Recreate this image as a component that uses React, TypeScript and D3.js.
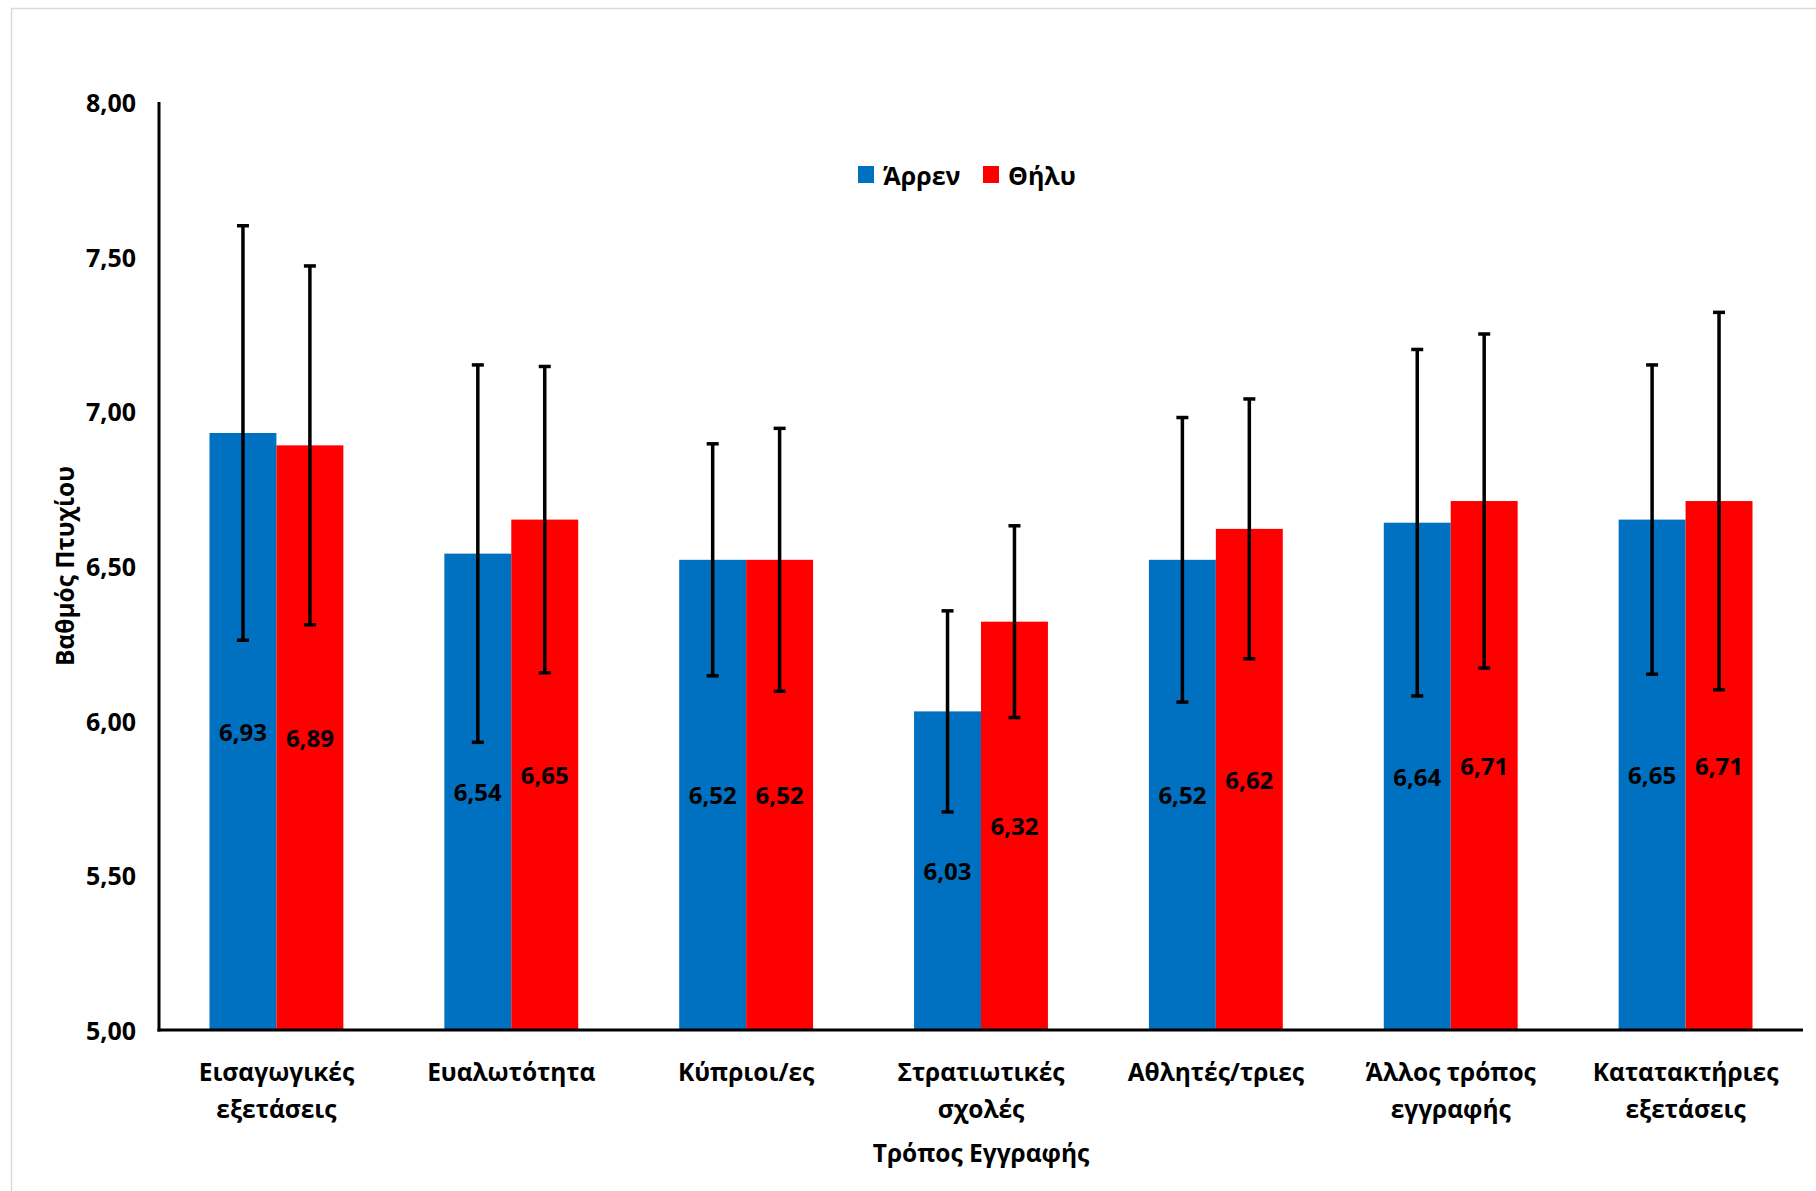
import React from "react";
import * as d3 from "d3";

const categories: string[][] = [
  ["Εισαγωγικές", "εξετάσεις"],
  ["Ευαλωτότητα"],
  ["Κύπριοι/ες"],
  ["Στρατιωτικές", "σχολές"],
  ["Αθλητές/τριες"],
  ["Άλλος τρόπος", "εγγραφής"],
  ["Κατατακτήριες", "εξετάσεις"],
];
const seriesNames = ["Άρρεν", "Θήλυ"];
const maleValues = [6.93, 6.54, 6.52, 6.03, 6.52, 6.64, 6.65];
const femaleValues = [6.89, 6.65, 6.52, 6.32, 6.62, 6.71, 6.71];
const maleErrors = [0.67, 0.61, 0.375, 0.325, 0.46, 0.56, 0.5];
const femaleErrors = [0.58, 0.495, 0.425, 0.31, 0.42, 0.54, 0.61];
const yTicks = [5.0, 5.5, 6.0, 6.5, 7.0, 7.5, 8.0];
const colors = ["#0070C0", "#FF0000"];
const yTitle = "Βαθμός Πτυχίου";
const xTitle = "Τρόπος Εγγραφής";

const W = 1816;
const H = 1191;
const FONT = "'Open Sans', 'Noto Sans', sans-serif";

export default function App() {
  const left = 159;
  const right = 1803;
  const top = 102;
  const bottom = 1030;

  const catKeys = categories.map((c) => c.join(" "));
  const x = d3.scaleBand<string>().domain(catKeys).range([left, right]).paddingInner(0.43).paddingOuter(0.215);
  const xs = d3.scaleBand<string>().domain(seriesNames).range([0, x.bandwidth()]).padding(0);
  const y = d3.scaleLinear().domain([5, 8]).range([bottom, top]);
  const fmt = (v: number) => d3.format(".2f")(v).replace(".", ",");

  const series = [
    { name: seriesNames[0], values: maleValues, errors: maleErrors, color: colors[0] },
    { name: seriesNames[1], values: femaleValues, errors: femaleErrors, color: colors[1] },
  ];

  return (
    <svg width={W} height={H} style={{ position: "absolute", left: 0, top: 0, background: "#fff" }} fontFamily={FONT}>
      <rect x={11.5} y={8.5} width={W + 10} height={H + 10} fill="#fff" stroke="#d9d9d9" strokeWidth={1.5} />
      {series.map((s) =>
        s.values.map((v, i) => {
          const bx = (x(catKeys[i]) as number) + (xs(s.name) as number);
          const bw = xs.bandwidth();
          return <rect key={s.name + i} x={bx} y={y(v)} width={bw} height={y(5) - y(v)} fill={s.color} />;
        })
      )}
      {series.map((s) =>
        s.values.map((v, i) => {
          const bx = (x(catKeys[i]) as number) + (xs(s.name) as number) + xs.bandwidth() / 2;
          return (
            <text key={"l" + s.name + i} x={bx} y={(y(v) + y(5)) / 2} textAnchor="middle" dominantBaseline="central" fontSize={24} fontWeight="bold" fill="#000">
              {fmt(v)}
            </text>
          );
        })
      )}
      {series.map((s) =>
        s.values.map((v, i) => {
          const cx = (x(catKeys[i]) as number) + (xs(s.name) as number) + xs.bandwidth() / 2;
          const y1 = y(v + s.errors[i]);
          const y2 = y(v - s.errors[i]);
          return (
            <g key={"e" + s.name + i} stroke="#000" strokeWidth={3.5}>
              <line x1={cx} x2={cx} y1={y1} y2={y2} />
              <line x1={cx - 6} x2={cx + 6} y1={y1} y2={y1} />
              <line x1={cx - 6} x2={cx + 6} y1={y2} y2={y2} />
            </g>
          );
        })
      )}
      <line x1={left} x2={left} y1={top} y2={bottom + 1.5} stroke="#000" strokeWidth={3} />
      <line x1={left - 1.5} x2={right} y1={bottom} y2={bottom} stroke="#000" strokeWidth={3} />
      {yTicks.map((t) => (
        <text key={t} x={136} y={y(t)} textAnchor="end" dominantBaseline="central" fontSize={25} fontWeight="bold" fill="#000">
          {fmt(t)}
        </text>
      ))}
      {categories.map((lines, i) => {
        const cx = (x(catKeys[i]) as number) + x.bandwidth() / 2;
        return (
          <text key={"c" + i} x={cx} textAnchor="middle" fontSize={24.5} fontWeight="bold" fill="#000">
            {lines.map((ln, j) => (
              <tspan key={j} x={cx} y={1071 + j * 37} dominantBaseline="central">
                {ln}
              </tspan>
            ))}
          </text>
        );
      })}
      <text x={(left + right) / 2} y={1152} textAnchor="middle" dominantBaseline="central" fontSize={24.5} fontWeight="bold" fill="#000">
        {xTitle}
      </text>
      <text transform={`translate(64, ${(top + bottom) / 2}) rotate(-90)`} textAnchor="middle" dominantBaseline="central" fontSize={24.5} fontWeight="bold" fill="#000">
        {yTitle}
      </text>
      {series.map((s, k) => {
        const lx = k === 0 ? 858 : 983;
        return (
          <g key={"lg" + k}>
            <rect x={lx} y={166} width={16} height={17} fill={s.color} />
            <text x={lx + 25} y={175} dominantBaseline="central" fontSize={25} fontWeight="bold" fill="#000">
              {s.name}
            </text>
          </g>
        );
      })}
    </svg>
  );
}
